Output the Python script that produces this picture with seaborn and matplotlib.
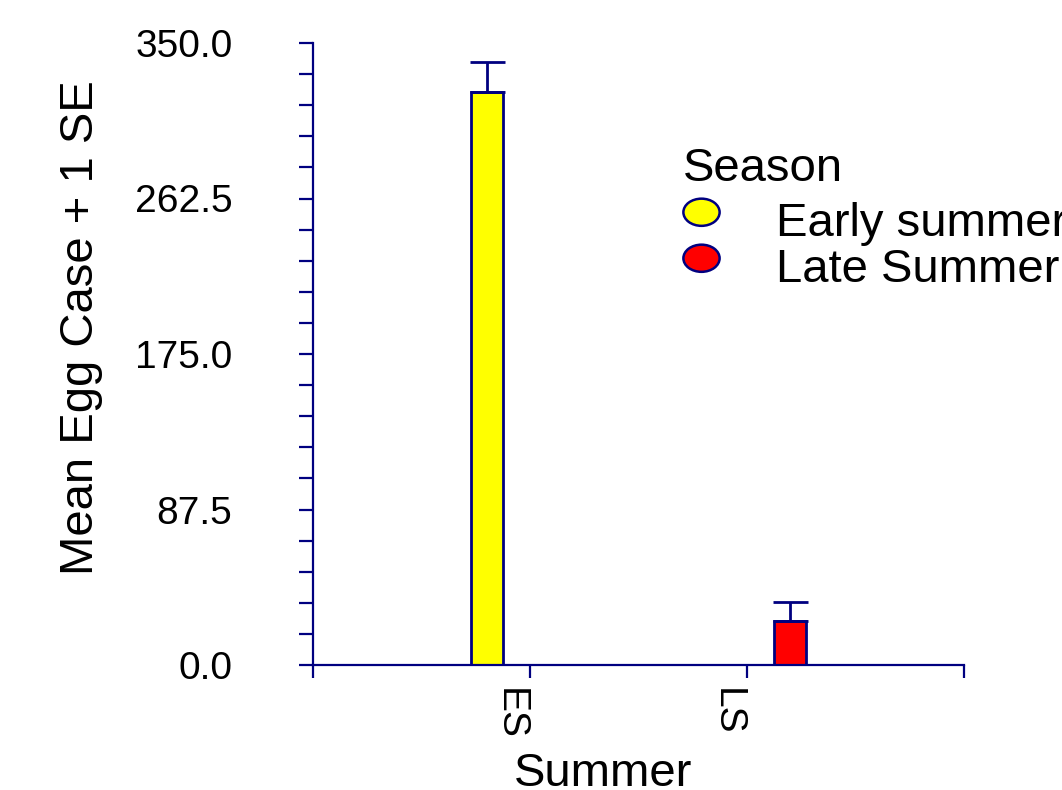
import numpy as np
import pandas as pd
import matplotlib
matplotlib.use("Agg")
import matplotlib.pyplot as plt
from matplotlib.lines import Line2D
from matplotlib.path import Path
from matplotlib.transforms import Affine2D, ScaledTranslation
import seaborn as sns

# Data
summer = ["ES", "LS"]
season = ["Early summer", "Late Summer"]
mean_egg_case = [322.4, 24.9]
se_egg_case = [16.9, 10.4]

yticks = [0.0, 87.5, 175.0, 262.5, 350.0]
xtick_labels = ["", "ES", "LS", ""]

NAVY = "#000080"
palette = {"Early summer": "#FFFF00", "Late Summer": "#FF0000"}

sns.set_style("white")
plt.rcParams["font.family"] = ["Liberation Sans", "DejaVu Sans"]
plt.rcParams["text.color"] = "black"
plt.rcParams["axes.labelcolor"] = "black"

df = pd.DataFrame({"Summer": summer, "Season": season, "Mean": mean_egg_case, "SE": se_egg_case})

DPI = 100
fig = plt.figure(figsize=(1062 / DPI, 790 / DPI), dpi=DPI)
ax = fig.add_axes([313 / 1062, 125 / 790, 651 / 1062, 622 / 790])

sns.barplot(
    data=df, x="Summer", y="Mean", hue="Season",
    order=summer, hue_order=season, palette=palette, saturation=1,
    dodge=True, width=0.8, gap=0.63, errorbar=None,
    edgecolor=NAVY, linewidth=2.0, legend=False, ax=ax,
)

# one-sided (+1 SE) error bars centred on each bar
bars = [p for p in ax.patches if p.get_height() > 0]
bars.sort(key=lambda p: p.get_x())
for bar, m, se in zip(bars, mean_egg_case, se_egg_case):
    cx = bar.get_x() + bar.get_width() / 2
    ax.errorbar(cx, m, yerr=[[0], [se]], fmt="none", ecolor=NAVY,
                elinewidth=2.0, capsize=12.6, capthick=2.0, zorder=1)

ax.set_xlim(-1, 2)
ax.set_ylim(0, 350)
ax.set_xticks([-1, 0, 1, 2])
ax.set_xticklabels(xtick_labels, rotation=270, fontsize=28)
ax.set_yticks(yticks)
ax.set_yticklabels([f"{v:.1f}" for v in yticks], fontsize=28)
ax.set_yticks(np.arange(0, 350.01, 17.5), minor=True)

for side in ["top", "right"]:
    ax.spines[side].set_visible(False)
for side in ["left", "bottom"]:
    ax.spines[side].set_color(NAVY)
    ax.spines[side].set_linewidth(1.6)

ax.tick_params(axis="y", which="both", direction="out", length=10, width=1.6,
               color=NAVY, left=True, pad=48, labelcolor="black")
ax.tick_params(axis="x", which="both", direction="out", length=9.5, width=1.6,
               color=NAVY, bottom=True, pad=7, labelcolor="black")

offset = ScaledTranslation(-20 / DPI, 0, fig.dpi_scale_trans)
for lbl in ax.get_xticklabels():
    lbl.set_transform(lbl.get_transform() + offset)

ax.set_xlabel("Summer", fontsize=34)
ax.xaxis.set_label_coords(0.445, -0.14)
ax.set_ylabel("Mean Egg Case + 1 SE", fontsize=34)
ax.yaxis.set_label_coords(-0.3226, 0.543)

# legend with elliptical markers, sitting a little above each label's centre
ellipse = Path.unit_circle().transformed(Affine2D().scale(1.0, 0.75).translate(0, 0.4))
handles = [
    Line2D([], [], linestyle="none", marker=ellipse, markersize=30,
           markerfacecolor=palette[s], markeredgecolor=NAVY, markeredgewidth=1.8)
    for s in season
]
leg = ax.legend(
    handles, season, title="Season", loc="upper left",
    bbox_to_anchor=(683 / 1062, 1 - 147 / 790), bbox_transform=fig.transFigure,
    frameon=False, fontsize=34, title_fontsize=34, borderpad=0, borderaxespad=0,
    handlelength=0.77, handletextpad=1.2, labelspacing=0.04, alignment="left",
)
# wider gap between the title and the entries
leg._legend_box.sep = 7.8

fig.savefig("out.png", dpi=DPI)
